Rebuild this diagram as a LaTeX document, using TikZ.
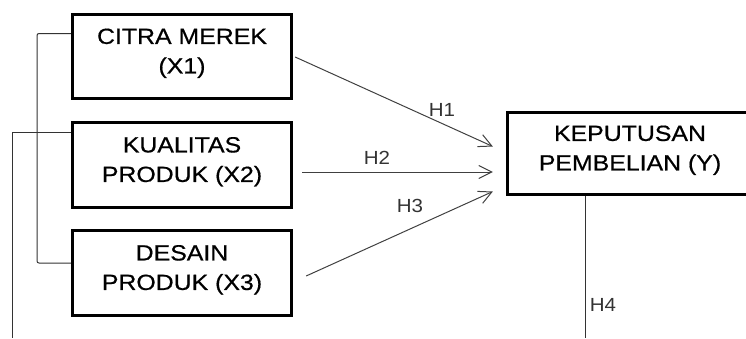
\documentclass[tikz,border=0pt]{standalone}
\usepackage{fontspec}
\setmainfont[FakeStretch=1.13,FakeBold=0.6]{Liberation Sans}
\newfontfamily\labelfont[FakeStretch=1.08]{Liberation Sans}
\usetikzlibrary{arrows.meta}
\begin{document}
\begin{tikzpicture}[x=1pt,y=-1pt,
  varbox/.style={draw=black,line width=3.3pt,inner sep=0pt,align=center,
    minimum width=219pt,minimum height=85pt,text depth=11pt,
    font=\fontsize{22}{29.5}\selectfont},
  link/.style={draw=black!80,line width=1pt},
  hyp/.style={draw=black!75,line width=1pt,
    -{Straight Barb[length=13pt,width=13pt,line width=1pt]}},
  hlabel/.style={text=black!80,inner sep=0pt,font=\labelfont\fontsize{19}{22}\selectfont}]
\useasboundingbox (0,0) rectangle (746,338);
\clip (0,0) rectangle (746,338);

% variable boxes
\node[varbox,minimum height=84pt] (x1) at (182,56.5) {CITRA MEREK\\(X1)};
\node[varbox] (x2) at (182,165) {KUALITAS\\PRODUK (X2)};
\node[varbox] (x3) at (182,273) {DESAIN\\PRODUK (X3)};
\node[varbox,minimum width=245pt,minimum height=82pt] (y) at (630,153.5) {KEPUTUSAN\\PEMBELIAN (Y)};

% bracket joining X1 and X3
\draw[link,rounded corners=2pt] ([yshift=23pt]x1.west) -- (37,33.5) -- (37,263) -- ([yshift=10pt]x3.west);
% line from X2 running down the left margin
\draw[link] ([yshift=33pt]x2.west) -- (12,132) -- (12,338);
% line from Y running down
\coordinate (ydown) at (585,338);
\draw[link] (y.south -| ydown) -- (ydown);

% hypothesis arrows
\draw[hyp] ([xshift=2pt,yshift=-0.5pt]x1.east) -- ([xshift=-13pt,yshift=7pt]y.west);
\draw[hyp] ([xshift=9pt,yshift=-7pt]x2.east) -- ([xshift=-13pt,yshift=-18.5pt]y.west);
\draw[hyp] ([xshift=13pt,yshift=-3pt]x3.east) -- ([xshift=-13pt,yshift=-38pt]y.west);

% hypothesis labels
\node[hlabel] (h1) at (442,110) {H1};
\node[hlabel] (h2) at (377,158) {H2};
\node[hlabel] (h3) at (410,206) {H3};
\node[hlabel] (h4) at (603,305) {H4};
\end{tikzpicture}
\end{document}
